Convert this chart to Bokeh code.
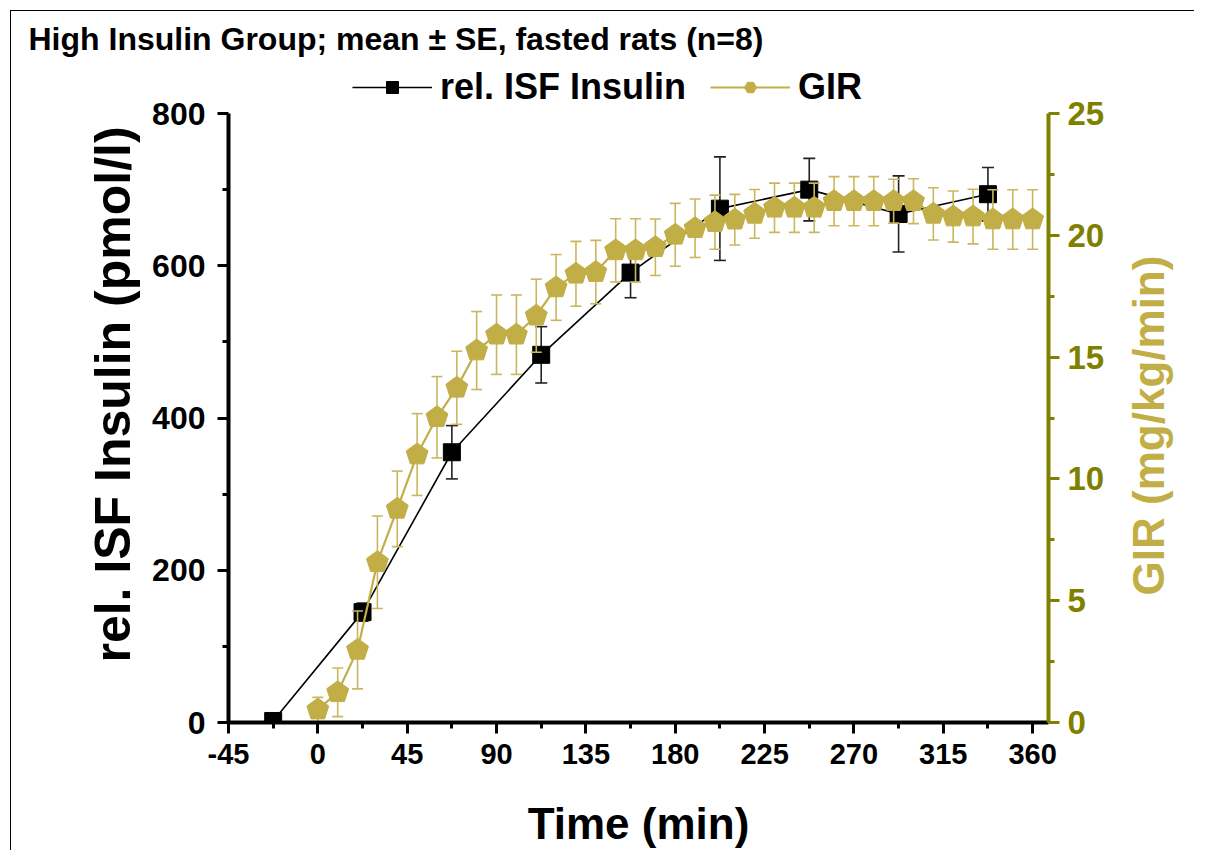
import numpy as np
from bokeh.plotting import figure
from bokeh.layouts import row, column
from bokeh.models import Range1d, LinearAxis, FixedTicker, Legend, LegendItem, Label
from bokeh.embed import file_html
from bokeh.resources import INLINE

# ---------------- data ----------------
ins_t = [-22.5, 22.5, 67.5, 112.5, 157.5, 202.5, 247.5, 292.5, 337.5]
ins_mean = [2, 145, 355, 483, 591, 675, 700, 668, 694]
ins_se = [3, 12, 35, 37, 33, 68, 41, 50, 35]

gir_t = [0, 10, 20, 30, 40, 50, 60, 70, 80, 90, 100, 110, 120, 130, 140, 150, 160, 170,
         180, 190, 200, 210, 220, 230, 240, 250, 260, 270, 280, 290, 300, 310, 320, 330,
         340, 350, 360]
gir_mean = [0.53, 1.24, 2.98, 6.58, 8.77, 11.0, 12.53, 13.74, 15.27, 15.92, 15.92, 16.7,
            17.86, 18.42, 18.49, 19.38, 19.38, 19.51, 20.02, 20.29, 20.54, 20.64, 20.88,
            21.13, 21.13, 21.13, 21.40, 21.40, 21.40, 21.40, 21.40, 20.88, 20.77, 20.77,
            20.65, 20.65, 20.65]
gir_se = [0.5, 1.0, 1.6, 1.9, 1.55, 1.68, 1.67, 1.5, 1.6, 1.63, 1.63, 1.5, 1.35, 1.33,
          1.30, 1.30, 1.30, 1.16, 1.29, 1.2, 1.11, 1.04, 1.0, 1.01, 1.01, 1.01, 1.01, 1.01,
          1.01, 0.9, 0.92, 1.07, 1.05, 1.12, 1.22, 1.22, 1.22]

x_ticks = [-45, 0, 45, 90, 135, 180, 225, 270, 315, 360]
left_ticks = [0, 200, 400, 600, 800]
right_ticks = [0, 5, 10, 15, 20, 25]

title_text = "High Insulin Group; mean \u00b1 SE, fasted rats (n=8)"
x_label = "Time (min)"
left_label = "rel. ISF Insulin (pmol/l)"
right_label = "GIR (mg/kg/min)"
series_names = ["rel. ISF Insulin", "GIR"]

# ---------------- style / geometry ----------------
GOLD = "#C2AE46"
GOLD_ERR = "#C9B760"
OLIVE = "#808000"
FONT = "Liberation Sans"

X0, X1 = -45, 368
Y1_MAX, Y2_MAX = 800, 25
FW, FH = 820, 609          # data area (axes extent) in px
TOP_PAD = 47               # free space above the axes' top, inside the frame (legend)
FH_ALL = FH + TOP_PAD
Y1_END = Y1_MAX * FH_ALL / FH
Y2_END = Y2_MAX * FH_ALL / FH
BL, BR, BB = 217, 66, 128
W_MAIN = BL + FW + BR
H_MAIN = FH_ALL + BB
W_SIDE = 80
H_TOP = 55

# ======================= main chart =======================
p = figure(frame_width=FW, frame_height=FH_ALL, title=None,
           x_range=Range1d(X0, X1), y_range=Range1d(0, Y1_END),
           min_border_left=BL, min_border_right=BR, min_border_top=0, min_border_bottom=BB,
           output_backend="svg", toolbar_location=None)
p.outline_line_color = None
p.xgrid.grid_line_color = None
p.ygrid.grid_line_color = None
p.background_fill_color = "white"
p.border_fill_color = "white"
p.extra_y_ranges = {"gir": Range1d(0, Y2_END)}

p.xaxis.ticker = FixedTicker(ticks=x_ticks,
                             minor_ticks=[a + 22.5 for a in x_ticks[:-1]])
p.yaxis.ticker = FixedTicker(ticks=left_ticks,
                             minor_ticks=[a + 100 for a in left_ticks[:-1]])
p.yaxis.bounds = (0, Y1_MAX)
rax = LinearAxis(y_range_name="gir", bounds=(0, Y2_MAX),
                 ticker=FixedTicker(ticks=right_ticks,
                                    minor_ticks=[a + 2.5 for a in right_ticks[:-1]]))
p.add_layout(rax, "right")

for ax in [p.xaxis[0], p.yaxis[0], rax]:
    ax.axis_line_width = 4
    ax.major_tick_line_width = 3
    ax.minor_tick_line_width = 3
    ax.major_tick_in = 0
    ax.minor_tick_in = 0
    ax.major_tick_out = 11
    ax.minor_tick_out = 6
    ax.major_label_text_font_style = "bold"
    ax.major_label_text_color = "black"
    ax.axis_label_text_font_style = "bold"
    ax.axis_label_text_font = FONT
    ax.axis_label_text_color = "black"

xa = p.xaxis[0]
xa.major_label_text_font = FONT
xa.major_label_text_font_size = "29px"
xa.major_label_standoff = 10
xa.major_label_overrides = {t: str(t) for t in x_ticks}
xa.axis_label = x_label
xa.axis_label_text_font_size = "44px"
xa.axis_label_standoff = 32

ya = p.yaxis[0]
ya.major_label_text_font = FONT
ya.major_label_text_font_size = "32px"
ya.major_label_standoff = 12
ya.axis_label = left_label
ya.axis_label_text_font_size = "50px"
ya.axis_label_standoff = 8

rax.axis_line_color = OLIVE
rax.major_tick_line_color = OLIVE
rax.minor_tick_line_color = OLIVE
rax.major_label_text_color = OLIVE
rax.major_label_text_font = FONT
rax.major_label_text_font_size = "33px"
rax.major_label_standoff = 8

# insulin series
ins_lo = [m - s for m, s in zip(ins_mean, ins_se)]
ins_hi = [m + s for m, s in zip(ins_mean, ins_se)]
ins_line = p.line(ins_t, ins_mean, line_color="black", line_width=1.6)
p.segment(ins_t, ins_lo, ins_t, ins_hi, line_color="#222222", line_width=1.6)
p.scatter(ins_t, ins_lo, marker="dash", size=12, line_color="#222222", line_width=1.6)
p.scatter(ins_t, ins_hi, marker="dash", size=12, line_color="#222222", line_width=1.6)
ins_pts = p.scatter(ins_t, ins_mean, marker="square", size=17, fill_color="black",
                    line_color="black")

# GIR series
gir_lo = [m - s for m, s in zip(gir_mean, gir_se)]
gir_hi = [m + s for m, s in zip(gir_mean, gir_se)]
gir_line = p.line(gir_t, gir_mean, line_color=GOLD, line_width=2.2, y_range_name="gir")
p.segment(gir_t, gir_lo, gir_t, gir_hi, line_color=GOLD_ERR, line_width=1.6, y_range_name="gir")
p.scatter(gir_t, gir_lo, marker="dash", size=11, line_color=GOLD_ERR, line_width=1.6, y_range_name="gir")
p.scatter(gir_t, gir_hi, marker="dash", size=11, line_color=GOLD_ERR, line_width=1.6, y_range_name="gir")
gir_pts = p.scatter(gir_t, gir_mean, marker="hex", size=18, angle=np.pi / 2,
                    fill_color=GOLD, line_color=GOLD, y_range_name="gir")

# pentagon markers (screen-size radius converted to data units of each axis)
R = 11.5
ppx = FW / (X1 - X0)
ppy = FH_ALL / Y2_END
ang = np.pi / 2 + np.arange(5) * 2 * np.pi / 5
pent_xs = [list(t + R * np.cos(ang) / ppx) for t in gir_t]
pent_ys = [list(m + R * np.sin(ang) / ppy) for m in gir_mean]
p.patches(pent_xs, pent_ys, fill_color=GOLD, line_color=GOLD, y_range_name="gir")

legend = Legend(items=[LegendItem(label=series_names[0], renderers=[ins_line, ins_pts]),
                       LegendItem(label=series_names[1], renderers=[gir_line, gir_pts])],
                orientation="horizontal", location=(124, 614),
                glyph_width=80, glyph_height=30, label_standoff=8, spacing=24,
                padding=0, margin=0, border_line_color=None, background_fill_alpha=0,
                label_text_font=FONT, label_text_font_style="bold",
                label_text_font_size="36px", label_text_color="black")
p.add_layout(legend, "center")

# ======================= title strip =======================
t = figure(width=W_MAIN + W_SIDE, height=H_TOP, title=None,
           x_range=Range1d(0, 1), y_range=Range1d(0, 1),
           min_border=0, output_backend="svg", toolbar_location=None)
t.axis.visible = False
t.grid.visible = False
t.outline_line_color = None
t.background_fill_color = "white"
t.border_fill_color = "white"
t.add_layout(Label(x=17, y=28, x_units="screen", y_units="screen", text=title_text,
                   text_font=FONT, text_font_style="bold", text_font_size="32px",
                   text_color="black", text_baseline="alphabetic", text_align="left"))

# ======================= right-hand axis title =======================
q = figure(width=W_SIDE, height=H_MAIN, title=None, x_range=Range1d(0, 1), y_range=Range1d(0, 1),
           min_border=0, output_backend="svg", toolbar_location=None)
q.axis.visible = False
q.grid.visible = False
q.outline_line_color = None
q.background_fill_color = "white"
q.border_fill_color = "white"
q.add_layout(Label(x=34, y=297, x_units="screen", y_units="screen",
                   text=right_label, angle=np.pi / 2, text_font=FONT,
                   text_font_style="bold", text_font_size="44px", text_color=GOLD,
                   text_align="center", text_baseline="middle"))

layout = column(t, row(p, q))
layout.styles = {"margin-left": "10px", "margin-top": "10px",
                 "border-left": "1px solid black", "border-top": "1px solid black"}

open("out.html", "w").write(file_html(layout, INLINE))
